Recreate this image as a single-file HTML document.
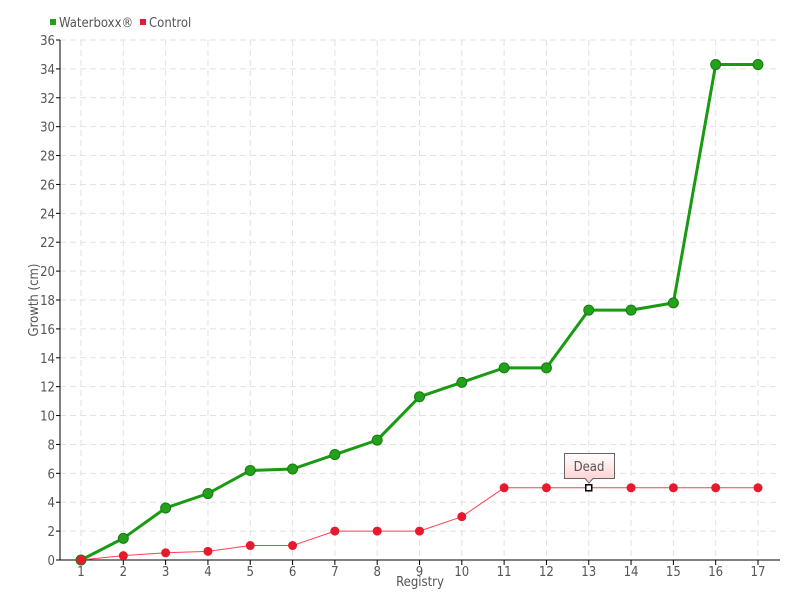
<!DOCTYPE html>
<html><head><meta charset="utf-8"><style>
body{margin:0;background:#fff}
svg{display:block;font-family:"DejaVu Sans Condensed","Liberation Sans Narrow","Liberation Sans",sans-serif}
</style></head><body>
<svg id="c" width="800" height="600" xmlns="http://www.w3.org/2000/svg"></svg>
<script>
const g=[0,1.5,3.6,4.6,6.2,6.3,7.3,8.3,11.3,12.3,13.3,13.3,17.3,17.3,17.8,34.3,34.3];
const r=[0,0.3,0.5,0.6,1,1,2,2,2,3,5,5,5,5,5,5,5];
const X=i=>81+i*42.3125, Y=v=>560-v*520/36;
let s='';
for(let v=0;v<=36;v+=2){const y=Y(v);
 if(v>0)s+=`<line x1="60" y1="${y}" x2="780" y2="${y}" stroke="#e2e2e2" stroke-dasharray="6,4"/>`;
 s+=`<line x1="56" y1="${y}" x2="60" y2="${y}" stroke="#000"/>`;
 s+=`<text x="55" y="${y+5}" font-size="13" fill="#555" text-anchor="end">${v}</text>`;}
for(let i=0;i<17;i++){const x=X(i);
 s+=`<line x1="${x}" y1="40" x2="${x}" y2="560" stroke="#e2e2e2" stroke-dasharray="6,4"/>`;
 s+=`<line x1="${x}" y1="560" x2="${x}" y2="565" stroke="#000"/>`;
 s+=`<text x="${x}" y="576" font-size="13" fill="#555" text-anchor="middle">${i+1}</text>`;}
s+=`<line x1="60" y1="40" x2="60" y2="560" stroke="#000"/><line x1="60" y1="560" x2="780" y2="560" stroke="#000"/>`;
s+=`<text x="420" y="586" font-size="13" fill="#555" text-anchor="middle">Registry</text>`;
s+=`<text transform="translate(38,300) rotate(-90)" font-size="13" fill="#555" text-anchor="middle">Growth (cm)</text>`;
s+=`<polyline fill="none" stroke="#ff4050" stroke-width="1" points="${r.map((v,i)=>X(i)+','+Y(v)).join(' ')}"/>`;
s+=`<polyline fill="none" stroke="#1a9a12" stroke-width="3" points="${g.map((v,i)=>X(i)+','+Y(v)).join(' ')}"/>`;
g.forEach((v,i)=>s+=`<circle cx="${X(i)}" cy="${Y(v)}" r="5" fill="#22a21a" stroke="#187a12" stroke-width="1"/>`);
r.forEach((v,i)=>{ if(i==12) s+=`<rect x="${X(i)-3}" y="${Y(v)-3}" width="6" height="6" fill="#fff" stroke="#000" stroke-width="1.5"/>`;
 else s+=`<circle cx="${X(i)}" cy="${Y(v)}" r="4.5" fill="#e8192c"/>`;});
s+=`<defs><linearGradient id="tg" x1="0" y1="0" x2="0" y2="1"><stop offset="0" stop-color="#fff"/><stop offset="1" stop-color="#fcc"/></linearGradient></defs>`;
s+=`<path d="M564.5,453.5 H614.5 V478.5 H593 L589,483 L585,478.5 H564.5 Z" fill="url(#tg)" stroke="#666"/>`;
s+=`<text x="589" y="471" font-size="13" fill="#555" text-anchor="middle">Dead</text>`;
s+=`<rect x="50" y="19" width="6" height="6" fill="#22a21a"/><text x="59" y="27" font-size="13" fill="#555">Waterboxx®</text>`;
s+=`<rect x="140" y="19" width="6" height="6" fill="#e8192c"/><text x="149" y="27" font-size="13" fill="#555">Control</text>`;
document.getElementById('c').innerHTML=s;
</script>
</body></html>
